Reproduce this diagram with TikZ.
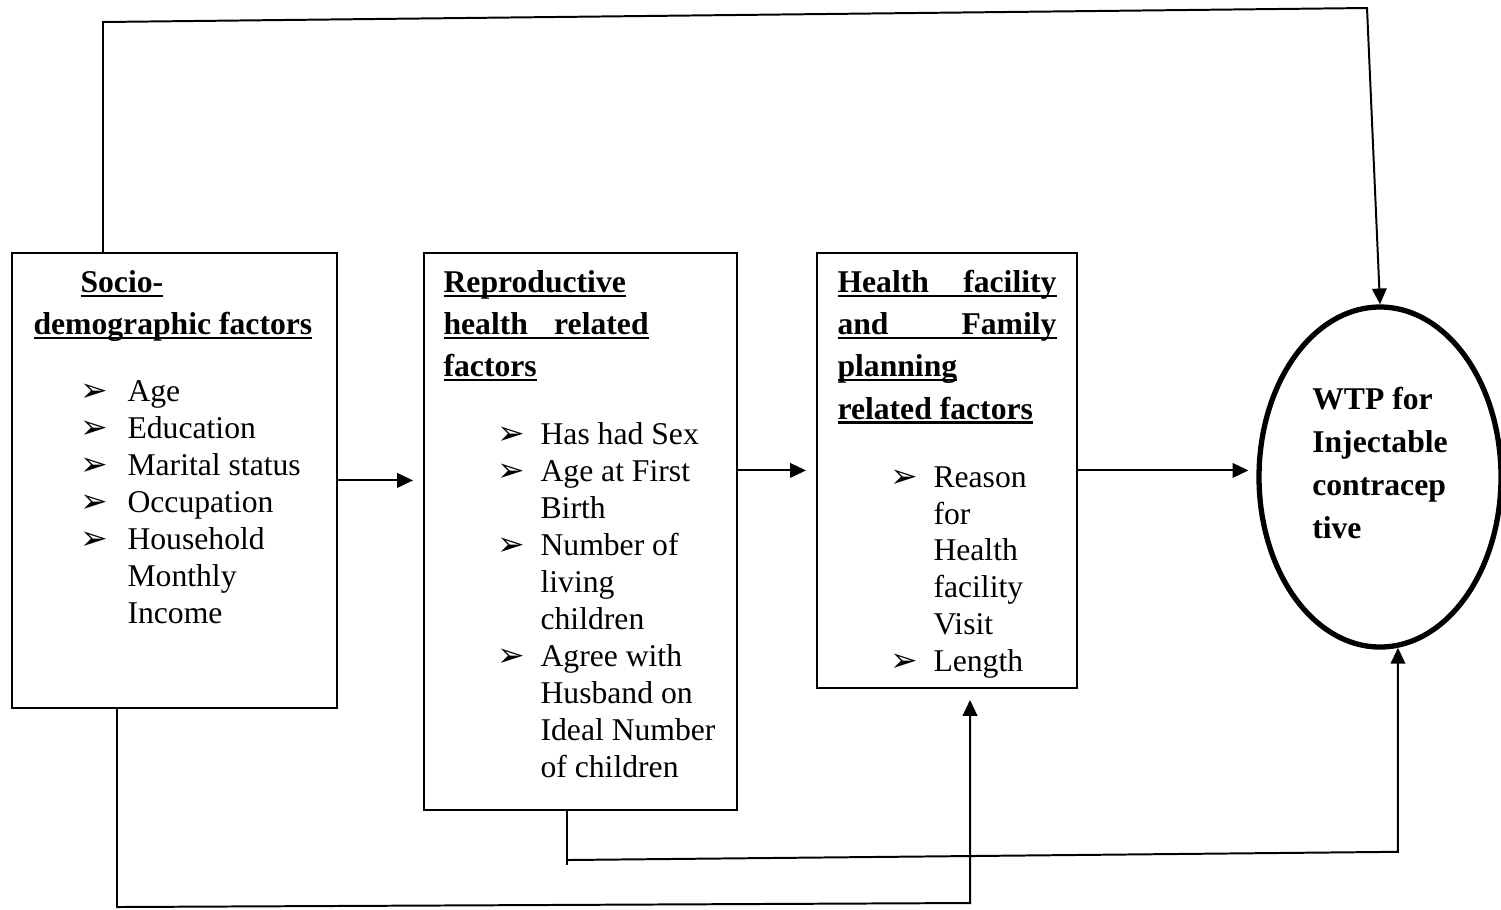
\documentclass[tikz,border=0pt]{standalone}
\usepackage{fontspec}
\setmainfont{Liberation Serif}
\newfontfamily\symfont{DejaVu Sans}
\usepackage{tikz}
\usetikzlibrary{shapes.geometric, arrows.meta, positioning, calc}
\newlength\px
\setlength\px{0.013324cm}
\newcommand{\hd}[1]{\setbox0\hbox{\textbf{#1}}\rlap{\rule[-1.7pt]{\wd0}{0.8pt}}\box0}
\newcommand{\bul}{{\symfont\bfseries\fontsize{12.5}{12}\selectfont ➢}}
\tikzset{
  factorbox/.style={rectangle, draw=black, line width=0.7pt, inner sep=0pt, anchor=north west},
  boxtext/.style={inner sep=0pt, anchor=north west, font=\fontsize{12}{14}\selectfont},
  outcome/.style={ellipse, draw=black, line width=2pt, minimum width=242\px, minimum height=340\px, inner sep=0pt},
  outtext/.style={inner sep=0pt, align=left, font=\fontsize{12}{16.2}\selectfont\bfseries},
  arrow/.style={line width=0.75pt, -{Triangle[length=6pt, width=5.5pt]}},
  link/.style={line width=0.75pt}
}

\begin{document}
\begin{tikzpicture}[x=1\px, y=-1\px]
\useasboundingbox (0,0) rectangle (1501,909);
% the three factor boxes
\node[factorbox, minimum width=325\px, minimum height=455\px] (socio) at (11,252) {};
\node[factorbox, minimum width=313\px, minimum height=557\px, right=1.135cm of socio.north east, anchor=north west] (repro) {};
\node[factorbox, minimum width=260\px, minimum height=435\px, right=1.04cm of repro.north east, anchor=north west] (health) {};
\node[outcome] (wtp) at (1380,477) {};

\node[boxtext] (sociotxt) at ($(socio.north west)+(22,14)$) {%
\begin{tabular}{@{}p{47\px}@{}p{47\px}@{}l@{}}
\multicolumn{3}{@{}l@{}}{\hspace*{47\px}\hd{Socio-}}\\[2pt]
\multicolumn{3}{@{}l@{}}{\hd{demographic factors}}\\[11.4pt]
 & \bul & Age\\
 & \bul & Education\\
 & \bul & Marital status\\
 & \bul & Occupation\\
 & \bul & Household\\
 & & Monthly\\
 & & Income
\end{tabular}};

\node[boxtext] (reprotxt) at ($(repro.north west)+(20,14)$) {%
\begin{tabular}{@{}p{54\px}@{}p{43\px}@{}l@{}}
\multicolumn{3}{@{}l@{}}{\hd{Reproductive}}\\[2pt]
\multicolumn{3}{@{}l@{}}{\hd{\makebox[205\px][s]{health related}}}\\[2pt]
\multicolumn{3}{@{}l@{}}{\hd{factors}}\\[11.8pt]
 & \bul & Has had Sex\\
 & \bul & Age at First\\
 & & Birth\\
 & \bul & Number of\\
 & & living\\
 & & children\\
 & \bul & Agree with\\
 & & Husband on\\
 & & Ideal Number\\
 & & of children
\end{tabular}};

\node[boxtext] (healthtxt) at ($(health.north west)+(21,14)$) {%
\begin{tabular}{@{}p{53\px}@{}p{43\px}@{}l@{}}
\multicolumn{3}{@{}l@{}}{\hd{\makebox[219\px][s]{Health facility}}}\\[2pt]
\multicolumn{3}{@{}l@{}}{\hd{\makebox[219\px][s]{and Family}}}\\[2pt]
\multicolumn{3}{@{}l@{}}{\hd{planning}}\\[2pt]
\multicolumn{3}{@{}l@{}}{\hd{related factors}}\\[11.8pt]
 & \bul & Reason\\
 & & for\\
 & & Health\\
 & & facility\\
 & & Visit\\
 & \bul & Length
\end{tabular}};

\node[outtext] (wtptxt) at ($(wtp.center)+(0,-14)$) {WTP for\\Injectable\\contracep\\tive};

% bends of the long connectors
\coordinate (topL) at (103,22);
\coordinate (topR) at (1367,8);
\coordinate (repB) at (567,860);
\coordinate (wtpB) at ($(wtp.-84)+(0,204)$);
\coordinate (socB) at (117,907);
\coordinate (hfB) at (970,903);

% straight flow
\draw[arrow, shorten >=3.8pt] (socio.east) -- (socio.east -| repro.west);
\draw[arrow, shorten >=3.8pt] (repro.east |- health.west) -- (health.west);
\draw[arrow, shorten >=3pt] (health.east) -- (health.east -| wtp.west);

% long connectors
\draw[arrow] (socio.north -| topL) -- (topL) -- (topR) -- (wtp.north);
\draw[link] (repro.south -| repB) -- ($(repB)+(0,5)$);
\draw[arrow] (repB) -- (wtpB) -- (wtp.-84);
\draw[arrow, shorten >=4.2pt] (socio.south -| socB) -- (socB) -- (hfB) -- (health.south -| hfB);
\end{tikzpicture}
\end{document}
